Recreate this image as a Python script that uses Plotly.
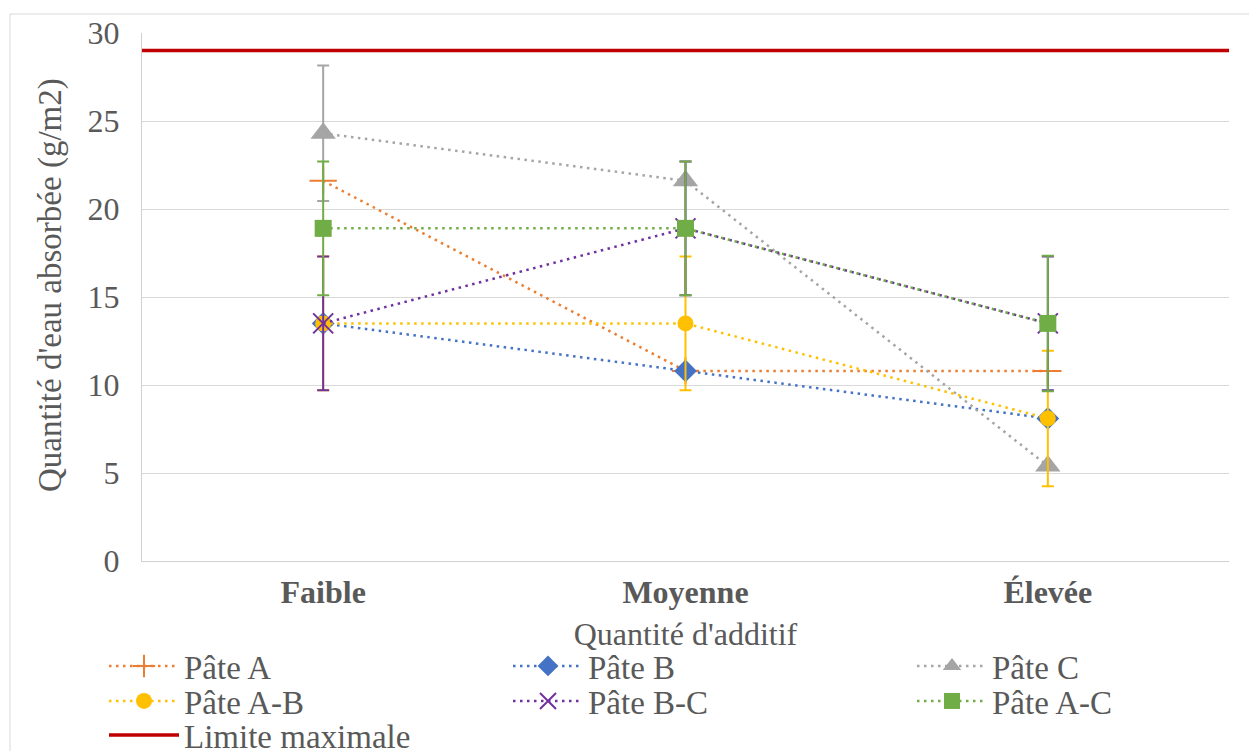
import plotly.graph_objects as go

# ---- data ----
categories = ["Faible", "Moyenne", "Élevée"]
cat_pos = [0, 1, 2]
pate_a = [21.6, 10.8, 10.8]
pate_b = [13.5, 10.8, 8.1]
pate_c = [24.3, 21.6, 5.4]
pate_ab = [13.5, 13.5, 8.1]
pate_bc = [13.5, 18.9, 13.5]
pate_ac = [18.9, 18.9, 13.5]
err_c = [3.85, None, None]
err_ab = [3.8, 3.8, 3.85]
err_bc = [3.8, 3.8, 3.8]
err_ac = [3.8, 3.8, 3.85]
limite_x = [-0.5, 2.5]
limite_y = [29, 29]
y_ticks = [0, 5, 10, 15, 20, 25, 30]
x_title = "Quantité d'additif"
y_title = "Quantité d'eau absorbée (g/m2)"

FONT = "Liberation Serif"
TXT = "#595959"
DOT = "2.5px,4.5px"

fig = go.Figure()

def series(name, y, color, symbol, size, err=None, legend="legend", mline=0):
    kw = {}
    if err is not None:
        kw["error_y"] = dict(type="data", array=err, visible=True, color=color,
                             thickness=2, width=6)
    fig.add_trace(go.Scatter(
        x=cat_pos, y=y, name=name, mode="lines+markers",
        line=dict(color=color, width=2.5, dash=DOT),
        marker=dict(symbol=symbol, size=size, color=color,
                    line=dict(color=color, width=mline)),
        legend=legend, **kw))

series("Pâte A", pate_a, "#ED7D31", "cross-thin", 19.5, legend="legend", mline=2)
series("Pâte B", pate_b, "#4472C4", "diamond", 17.5, legend="legend")
series("Pâte C", pate_c, "#A5A5A5", "triangle-up", 22, err=err_c, legend="legend")
series("Pâte A-B", pate_ab, "#FFC000", "circle", 16, err=err_ab, legend="legend2")
series("Pâte B-C", pate_bc, "#7030A0", "x-thin", 20, err=err_bc, legend="legend2", mline=2)
series("Pâte A-C", pate_ac, "#70AD47", "square", 17, err=err_ac, legend="legend2")

fig.add_trace(go.Scatter(
    x=limite_x, y=limite_y, name="Limite maximale", mode="lines",
    line=dict(color="#C00000", width=3.5), legend="legend3"))

# plot area in pixels: x 142..1229, y 33..561
W, H = 1249, 751
L, R, T, B = 142, 20, 33, 190
pw, ph = W - L - R, H - T - B

def px(xp):
    return (xp - L) / pw

def py(yp):
    return (H - B - yp) / ph

leg_common = dict(orientation="h", xanchor="left", yanchor="middle",
                  font=dict(family=FONT, size=33, color=TXT),
                  itemwidth=70, entrywidth=319, entrywidthmode="pixels",
                  bgcolor="rgba(0,0,0,0)", traceorder="normal",
                  itemclick=False)
lx = px(104)

fig.update_layout(
    width=W, height=H,
    margin=dict(l=L, r=R, t=T, b=B, autoexpand=False),
    paper_bgcolor="white", plot_bgcolor="white",
    font=dict(family=FONT, color=TXT, size=32),
    showlegend=True,
    legend=dict(x=lx, y=py(666), **leg_common),
    legend2=dict(x=lx, y=py(701), **leg_common),
    legend3=dict(x=lx, y=py(735), **leg_common),
    xaxis=dict(
        range=[-0.5, 2.5], tickvals=cat_pos, ticktext=categories,
        tickfont=dict(family=FONT, size=32, color=TXT, weight="bold"),
        showgrid=False, zeroline=False, showline=True, linecolor="#D0D0D0",
        linewidth=1, ticks="", ticklabelstandoff=3, automargin=False,
        title=dict(text=x_title, font=dict(family=FONT, size=32, color=TXT),
                   standoff=13),
    ),
    yaxis=dict(
        range=[0, 30], tickvals=y_ticks,
        tickfont=dict(family=FONT, size=32, color=TXT),
        showgrid=True, gridcolor="#D9D9D9", gridwidth=1, zeroline=False,
        showline=True, linecolor="#D0D0D0", linewidth=1, ticks="",
        ticklabelstandoff=15, automargin=False,
    ),
    annotations=[dict(text=y_title, xref="paper", yref="paper",
                      x=px(50), y=py(285), xanchor="center", yanchor="middle",
                      textangle=-90, showarrow=False,
                      font=dict(family=FONT, size=33, color=TXT))],
    shapes=[dict(type="rect", xref="paper", yref="paper",
                 x0=px(10), x1=px(1300), y0=py(800), y1=py(14),
                 line=dict(color="#D9D9D9", width=1), fillcolor="rgba(0,0,0,0)",
                 layer="below")],
)

fig.write_html("out.html")
